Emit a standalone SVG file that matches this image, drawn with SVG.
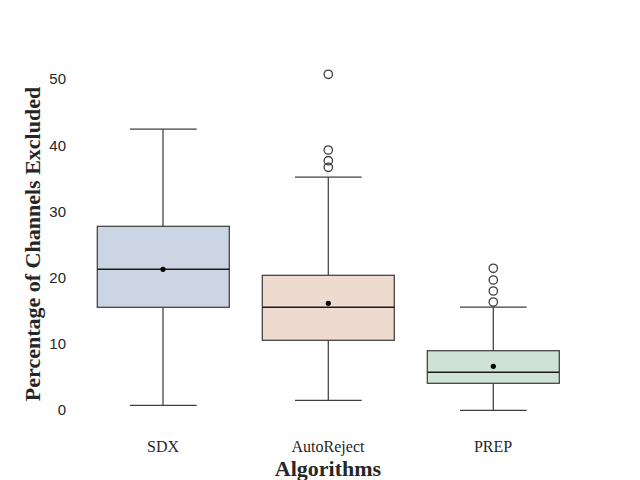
<svg xmlns="http://www.w3.org/2000/svg" width="640" height="480" viewBox="0 0 640 480">
<style>
.box{stroke:#3f3f3f;stroke-width:1.25}
.wh{stroke:#3f3f3f;stroke-width:1.25;fill:none}
.med{stroke:#1a1a1a;stroke-width:1.5}
.mean{fill:#000}
.out{fill:none;stroke:#3f3f3f;stroke-width:1.3}
.tick{font-family:"Liberation Sans",Arial,sans-serif;font-size:15px;fill:#262626;text-anchor:end}
.xt{font-family:"Liberation Serif","Times New Roman",serif;font-size:16px;fill:#262626;text-anchor:middle}
.lab{font-family:"Liberation Serif","Times New Roman",serif;font-size:22px;font-weight:bold;fill:#262626;text-anchor:middle}
</style>
<rect width="640" height="480" fill="#fff"/>
<g id="axes">
<text class="tick" x="66" y="415">0</text>
<text class="tick" x="66" y="349">10</text>
<text class="tick" x="66" y="283">20</text>
<text class="tick" x="66" y="217">30</text>
<text class="tick" x="66" y="151">40</text>
<text class="tick" x="66" y="84">50</text>
<text class="xt" x="163" y="452">SDX</text>
<text class="xt" x="328" y="452">AutoReject</text>
<text class="xt" x="493" y="452">PREP</text>
<text class="lab" x="328" y="476">Algorithms</text>
<text class="lab" transform="translate(40,244) rotate(-90)">Percentage of Channels Excluded</text>
</g>
<g id="sdx">
<line class="wh" x1="163" y1="129" x2="163" y2="226.3"/>
<line class="wh" x1="163" y1="307.3" x2="163" y2="405.3"/>
<line class="wh" x1="130" y1="129" x2="196.7" y2="129"/>
<line class="wh" x1="130" y1="405.3" x2="196.7" y2="405.3"/>
<rect class="box" x="97.3" y="226.3" width="132" height="81" fill="#cbd5e3"/>
<line class="med" x1="97.3" y1="269.3" x2="229.3" y2="269.3"/>
<circle class="mean" cx="163" cy="269.3" r="2.6"/>
</g>
<g id="autoreject">
<line class="wh" x1="328.3" y1="177" x2="328.3" y2="275.3"/>
<line class="wh" x1="328.3" y1="340.3" x2="328.3" y2="400.3"/>
<line class="wh" x1="295" y1="177" x2="361.7" y2="177"/>
<line class="wh" x1="295" y1="400.3" x2="361.7" y2="400.3"/>
<rect class="box" x="262.3" y="275.3" width="132" height="65" fill="#eedbd0"/>
<line class="med" x1="262.3" y1="307.3" x2="394.3" y2="307.3"/>
<circle class="mean" cx="328.3" cy="303.3" r="2.6"/>
<circle class="out" cx="328.3" cy="74.3" r="4.2"/>
<circle class="out" cx="328.3" cy="150" r="4.2"/>
<circle class="out" cx="328.3" cy="160.7" r="4.2"/>
<circle class="out" cx="328.3" cy="167.3" r="4.2"/>
</g>
<g id="prep">
<line class="wh" x1="493.3" y1="307" x2="493.3" y2="350.7"/>
<line class="wh" x1="493.3" y1="383.3" x2="493.3" y2="410.3"/>
<line class="wh" x1="460" y1="307" x2="526.7" y2="307"/>
<line class="wh" x1="460" y1="410.3" x2="526.7" y2="410.3"/>
<rect class="box" x="427.3" y="350.7" width="132" height="32.6" fill="#cfe2d6"/>
<line class="med" x1="427.3" y1="372.3" x2="559.3" y2="372.3"/>
<circle class="mean" cx="493.3" cy="366.3" r="2.6"/>
<circle class="out" cx="493.3" cy="268.3" r="4.2"/>
<circle class="out" cx="493.3" cy="280" r="4.2"/>
<circle class="out" cx="493.3" cy="291" r="4.2"/>
<circle class="out" cx="493.3" cy="302" r="4.2"/>
</g>
<g id="connectors"></g>
</svg>
